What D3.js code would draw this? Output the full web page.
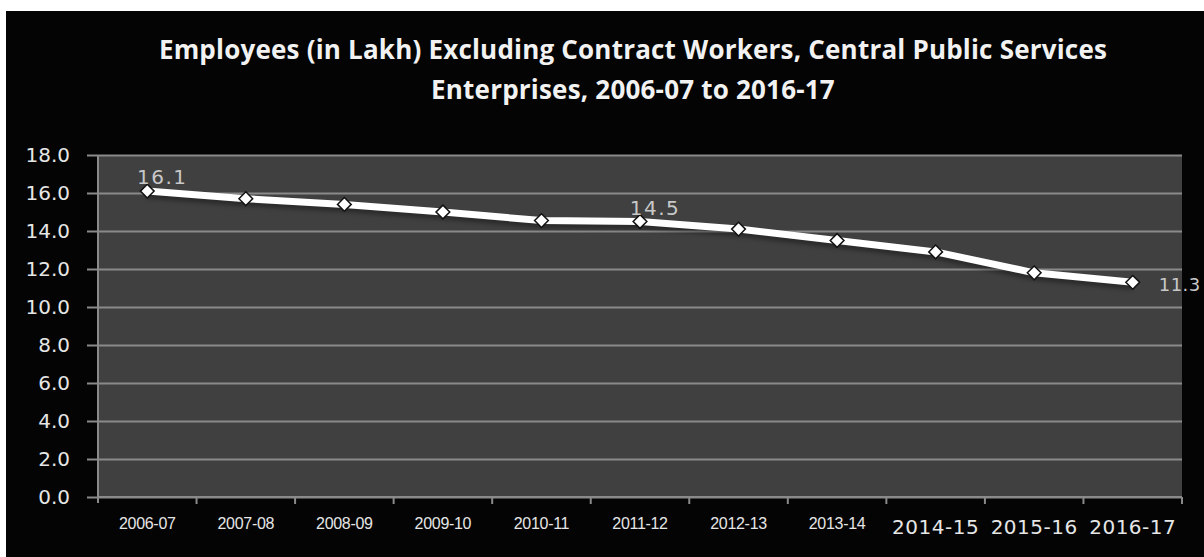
<!DOCTYPE html>
<html>
<head>
<meta charset="utf-8">
<script src="https://cdn.jsdelivr.net/npm/d3@7"></script>
<style>
  body { margin: 0; background: #fff; }
  svg { display: block; }
</style>
</head>
<body>
<script>
// chart data
var years = ['2006-07', '2007-08', '2008-09', '2009-10', '2010-11', '2011-12',
             '2012-13', '2013-14', '2014-15', '2015-16', '2016-17'];
var employees = [16.1, 15.7, 15.4, 15.0, 14.55, 14.5, 14.1, 13.5, 12.9, 11.8, 11.3];
var labelled = ['2006-07', '2011-12', '2016-17'];
var yTicks = [0, 2, 4, 6, 8, 10, 12, 14, 16, 18];
var titleLines = ['Employees (in Lakh) Excluding Contract Workers, Central Public Services',
                  'Enterprises, 2006-07 to 2016-17'];

var W = 1204, H = 557;
var plot = {left: 98, right: 1182, top: 155, bottom: 497};

var svg = d3.select(document.body).append('svg')
    .attr('width', W).attr('height', H);

// black frame
svg.append('rect').attr('x', 6).attr('y', 11)
    .attr('width', W - 6).attr('height', H - 11).attr('fill', '#040404');

// title
svg.append('g').selectAll('text').data(titleLines).enter().append('text')
    .attr('x', 633)
    .attr('y', function(d, i){ return 59 + i * 40; })
    .attr('text-anchor', 'middle')
    .attr('fill', '#f2f2f2')
    .style('font-family', '"Open Sans", sans-serif')
    .style('font-weight', 'bold')
    .style('font-size', '26px')
    .style('letter-spacing', '0.2px')
    .text(function(d){ return d; });

var x = d3.scaleBand().domain(years).range([plot.left, plot.right]);
var y = d3.scaleLinear().domain([0, 18]).range([plot.bottom, plot.top]);

// plot background
svg.append('rect').attr('x', plot.left).attr('y', plot.top)
    .attr('width', plot.right - plot.left).attr('height', plot.bottom - plot.top)
    .attr('fill', '#404040');

// y axis with gridlines
var yAxis = svg.append('g').attr('transform', 'translate(' + plot.left + ',0)')
    .call(d3.axisLeft(y).tickValues(yTicks).tickFormat(d3.format('.1f'))
        .tickSizeInner(-(plot.right - plot.left)).tickSizeOuter(0).tickPadding(28));
yAxis.select('.domain').remove();
yAxis.selectAll('.tick line').attr('stroke', '#8a8a8a').attr('stroke-width', 2);
yAxis.selectAll('.tick').append('line')
    .attr('x1', -11).attr('x2', 0).attr('stroke', '#8a8a8a').attr('stroke-width', 2);
yAxis.selectAll('.tick text')
    .attr('fill', '#e6e6e6')
    .style('font-family', '"DejaVu Sans", sans-serif')
    .style('font-size', '20px');

svg.append('line').attr('x1', plot.left).attr('x2', plot.left)
    .attr('y1', plot.top).attr('y2', plot.bottom + 6)
    .attr('stroke', '#8a8a8a').attr('stroke-width', 2);

// x axis: ticks at category boundaries
var xg = svg.append('g').attr('transform', 'translate(0,' + plot.bottom + ')');
xg.append('line').attr('x1', plot.left).attr('x2', plot.right)
    .attr('stroke', '#8a8a8a').attr('stroke-width', 2);
xg.selectAll('line.tk').data(years).enter().append('line').attr('class', 'tk')
    .attr('x1', function(d){ return x(d) + x.bandwidth(); })
    .attr('x2', function(d){ return x(d) + x.bandwidth(); })
    .attr('y1', 0).attr('y2', 7)
    .attr('stroke', '#8a8a8a').attr('stroke-width', 2);
xg.selectAll('text').data(years).enter().append('text')
    .attr('x', function(d){ return x(d) + x.bandwidth() / 2; })
    .attr('y', function(d, i){ return i < 8 ? 32 : 37; })
    .attr('text-anchor', 'middle')
    .attr('fill', '#e6e6e6')
    .style('font-family', function(d, i){ return i < 8 ? '"Liberation Sans Narrow", "Liberation Sans", sans-serif' : '"DejaVu Sans", sans-serif'; })
    .style('font-size', function(d, i){ return i < 8 ? '16px' : '20px'; })
    .style('letter-spacing', function(d, i){ return i < 8 ? '-0.3px' : '0.5px'; })
    .text(function(d){ return d; });

// line
var line = d3.line()
    .x(function(d, i){ return x(years[i]) + x.bandwidth() / 2; })
    .y(function(d){ return y(d); });

svg.append('path').datum(employees)
    .attr('d', line)
    .attr('transform', 'translate(0,4)')
    .attr('fill', 'none').attr('stroke', '#000').attr('stroke-opacity', 0.35)
    .attr('stroke-width', 7).style('filter', 'blur(2px)');

svg.append('path').datum(employees)
    .attr('d', line)
    .attr('fill', 'none').attr('stroke', '#ffffff')
    .attr('stroke-width', 7).attr('stroke-linejoin', 'round');

// diamond markers
svg.append('g').selectAll('path').data(employees).enter().append('path')
    .attr('transform', function(d, i){
        return 'translate(' + (x(years[i]) + x.bandwidth() / 2) + ',' + y(d) + ')';
    })
    .attr('d', d3.symbol().type(d3.symbolDiamond2).size(120))
    .attr('fill', '#ffffff').attr('stroke', '#111').attr('stroke-width', 1.5);

// data labels
svg.append('g').selectAll('text')
    .data(years.filter(function(d){ return labelled.indexOf(d) >= 0; }))
    .enter().append('text')
    .attr('x', function(d){
        var cx = x(d) + x.bandwidth() / 2;
        return d === '2016-17' ? cx + 26 : cx + 15;
    })
    .attr('y', function(d){
        var v = employees[years.indexOf(d)];
        return d === '2016-17' ? y(v) + 9 : y(v) - 7;
    })
    .attr('text-anchor', function(d){ return d === '2016-17' ? 'start' : 'middle'; })
    .attr('fill', '#c8c8c8')
    .style('font-family', '"DejaVu Sans", sans-serif')
    .style('font-size', function(d){ return d === '2016-17' ? '18px' : '20px'; })
    .style('letter-spacing', function(d){ return d === '2016-17' ? '0.5px' : '1.5px'; })
    .text(function(d){ return employees[years.indexOf(d)].toFixed(1); });
</script>
</body>
</html>
